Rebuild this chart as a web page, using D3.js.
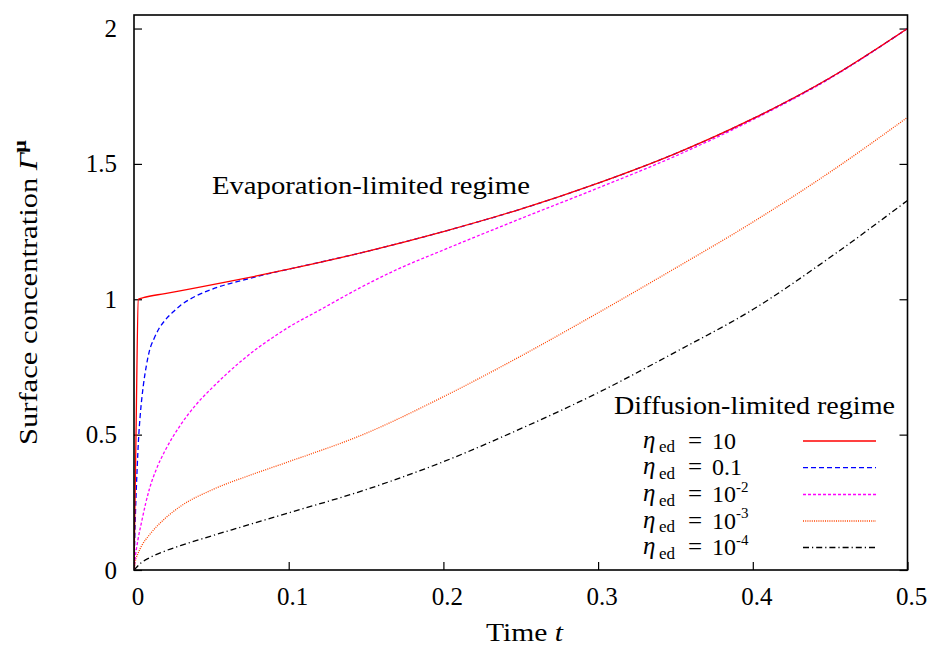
<!DOCTYPE html>
<html>
<head>
<meta charset="utf-8">
<script src="https://cdn.jsdelivr.net/npm/d3@7"></script>
<style>
  body { margin: 0; background: #fff; }
  text { font-family: "Liberation Serif", "Times New Roman", serif; fill: #000; }
</style>
</head>
<body>
<div id="wrapper"></div>
<script>
// values
const xTicks = [0, 0.1, 0.2, 0.3, 0.4, 0.5]
const xTickLabels = ["0", "0.1", "0.2", "0.3", "0.4", "0.5"]
const yTicks = [0, 0.5, 1, 1.5, 2]
const yTickLabels = ["0", "0.5", "1", "1.5", "2"]

const redT = [0, 0.0013, 0.0028, 0.006, 0.02, 0.04, 0.06, 0.08, 0.1, 0.15, 0.2, 0.25, 0.3, 0.35, 0.4, 0.45, 0.5]
const redG = [0, 0.5, 1.0, 1.006, 1.021, 1.042, 1.064, 1.087, 1.111, 1.176, 1.25, 1.333, 1.429, 1.538, 1.667, 1.818, 2.0]

const blueT = [0, 0.0005, 0.001, 0.002, 0.003, 0.004, 0.006, 0.008, 0.01, 0.013, 0.016, 0.02, 0.025, 0.03, 0.04, 0.05, 0.06, 0.07, 0.08, 0.1, 0.15, 0.2, 0.25, 0.3, 0.35, 0.4, 0.45, 0.5]
const blueG = [0, 0.12, 0.22, 0.37, 0.49, 0.57, 0.68, 0.755, 0.81, 0.855, 0.89, 0.922, 0.952, 0.977, 1.012, 1.036, 1.055, 1.07, 1.085, 1.111, 1.176, 1.25, 1.333, 1.429, 1.538, 1.667, 1.818, 2.0]

const magentaT = [0, 0.001, 0.0025, 0.005, 0.0075, 0.01, 0.015, 0.02, 0.03, 0.04, 0.05, 0.06, 0.07, 0.08, 0.09, 0.1, 0.12, 0.146, 0.17, 0.2, 0.25, 0.3, 0.35, 0.4, 0.45, 0.5]
const magentaG = [0, 0.055, 0.11, 0.18, 0.245, 0.30, 0.38, 0.44, 0.535, 0.61, 0.67, 0.725, 0.775, 0.82, 0.86, 0.897, 0.96, 1.042, 1.11, 1.182, 1.298, 1.411, 1.529, 1.663, 1.816, 2.0]

const orangeT = [0, 0.001, 0.0025, 0.005, 0.01, 0.02, 0.03, 0.05, 0.075, 0.1, 0.15, 0.2, 0.25, 0.3, 0.35, 0.4, 0.45, 0.5]
const orangeG = [0, 0.035, 0.06, 0.09, 0.13, 0.19, 0.235, 0.295, 0.35, 0.40, 0.505, 0.64, 0.79, 0.95, 1.115, 1.285, 1.47, 1.672]

const blackT = [0, 0.005, 0.01, 0.02, 0.03, 0.045, 0.07, 0.1, 0.15, 0.2, 0.25, 0.3, 0.35, 0.4, 0.45, 0.5]
const blackG = [0, 0.028, 0.045, 0.07, 0.09, 0.117, 0.16, 0.211, 0.297, 0.40, 0.522, 0.655, 0.805, 0.962, 1.155, 1.365]

const seriesNames = ["10", "0.1", "10", "10", "10"]
const seriesSup = ["", "", "-2", "-3", "-4"]

const series = [
  {t: redT, g: redG, color: "#ff0000", dash: null},
  {t: blueT, g: blueG, color: "#0000ff", dash: "5,3"},
  {t: magentaT, g: magentaG, color: "#ff00ff", dash: "3,2"},
  {t: orangeT, g: orangeG, color: "#ff4500", dash: "1,1.2"},
  {t: blackT, g: blackG, color: "#000000", dash: "6,3,1.2,3"}
]

const width = 930, height = 646
const margin = {top: 15, right: 22.5, bottom: 76, left: 134}
const boundWidth = width - margin.left - margin.right
const boundHeight = height - margin.top - margin.bottom

const svg = d3.select("#wrapper").append("svg")
  .attr("width", width)
  .attr("height", height)

const bounds = svg.append("g")
  .attr("transform", `translate(${margin.left},${margin.top})`)

const xScale = d3.scaleLinear().domain([0, 0.5]).range([0, boundWidth])
const yScale = d3.scaleLinear().domain([0, 2.05]).range([boundHeight, 0])

// stretch a text horizontally so it covers the measured width
function fit(sel, w) {
  const len = sel.node().getComputedTextLength()
  const t = sel.attr("transform") || ""
  sel.attr("transform", t + ` scale(${w / len},1)`)
}

svg.append("clipPath").attr("id", "clip")
  .append("rect").attr("width", boundWidth).attr("height", boundHeight)

// ticks, inward
const xAxis = bounds.append("g")
  .attr("transform", `translate(0,${boundHeight})`)
  .call(d3.axisTop(xScale).tickValues(xTicks).tickSize(8).tickFormat(""))
const yAxis = bounds.append("g")
  .call(d3.axisRight(yScale).tickValues(yTicks).tickSize(8).tickFormat(""))
const yAxisR = bounds.append("g")
  .attr("transform", `translate(${boundWidth},0)`)
  .call(d3.axisLeft(yScale).tickValues(yTicks).tickSize(8).tickFormat(""))
bounds.selectAll(".domain").remove()
bounds.selectAll(".tick line").attr("stroke", "#000").attr("stroke-width", 1.2)

// tick labels
bounds.selectAll(".xlab").data(xTicks).enter().append("text")
  .attr("x", d => xScale(d) + 4)
  .attr("y", boundHeight + 35)
  .attr("text-anchor", "middle")
  .style("font-size", "25px")
  .text((d, i) => xTickLabels[i])
bounds.selectAll(".ylab").data(yTicks).enter().append("text")
  .attr("x", -17)
  .attr("y", d => yScale(d) + 8.5)
  .attr("text-anchor", "end")
  .style("font-size", "25px")
  .text((d, i) => yTickLabels[i])

// curves
const line = d3.line()
  .x(d => xScale(d[0]))
  .y(d => yScale(d[1]))
  .curve(d3.curveMonotoneX)

const plot = bounds.append("g").attr("clip-path", "url(#clip)")
series.slice().reverse().forEach(s => {
  plot.append("path")
    .datum(s.t.map((t, i) => [t, s.g[i]]))
    .attr("d", line)
    .attr("fill", "none")
    .attr("stroke", s.color)
    .attr("stroke-width", 1.3)
    .attr("stroke-dasharray", s.dash)
})

// frame
bounds.append("rect")
  .attr("width", boundWidth).attr("height", boundHeight)
  .attr("fill", "none").attr("stroke", "#000").attr("stroke-width", 1.6)

// annotations
const evap = svg.append("text")
  .attr("transform", "translate(212,194)")
  .style("font-size", "25px")
  .text("Evaporation-limited regime")
fit(evap, 318)
const diff = svg.append("text")
  .attr("transform", "translate(614,414)")
  .style("font-size", "25px")
  .text("Diffusion-limited regime")
fit(diff, 281)

// legend
const rowY = [441, 467.7, 494.5, 521, 547.5]
series.forEach((s, i) => {
  const y = rowY[i]
  const g = svg.append("g")
  g.append("text").attr("x", 643).attr("y", y + 6.5)
    .style("font-size", "25px").style("font-style", "italic").text("η")
  g.append("text").attr("x", 659).attr("y", y + 11)
    .style("font-size", "17px").text("ed")
  g.append("text").attr("x", 688).attr("y", y + 7.5)
    .style("font-size", "25px").text("=")
  const v = g.append("text").attr("x", 712).attr("y", y + 7.5)
    .style("font-size", "24px").text(seriesNames[i])
  if (seriesSup[i]) {
    const vx = 712 + v.node().getComputedTextLength()
    g.append("text").attr("x", vx).attr("y", y - 3)
      .style("font-size", "15px").text(seriesSup[i])
  }
  g.append("line")
    .attr("x1", 803).attr("x2", 876)
    .attr("y1", y).attr("y2", y)
    .attr("stroke", s.color)
    .attr("stroke-width", 1.3)
    .attr("stroke-dasharray", s.dash)
})

// axis titles
const xt = svg.append("text")
  .attr("transform", "translate(486,641)")
  .style("font-size", "25px")
xt.append("tspan").text("Time ")
xt.append("tspan").style("font-style", "italic").text("t")
fit(xt, 77)

const yt = svg.append("text")
  .attr("transform", "translate(37,445) rotate(-90)")
  .style("font-size", "25px")
yt.append("tspan").text("Surface concentration ")
yt.append("tspan").style("font-style", "italic").text("Γ")
yt.append("tspan").attr("dy", -11).style("font-size", "18px").style("font-weight", "bold").text("μ")
fit(yt, 305)
</script>
</body>
</html>
